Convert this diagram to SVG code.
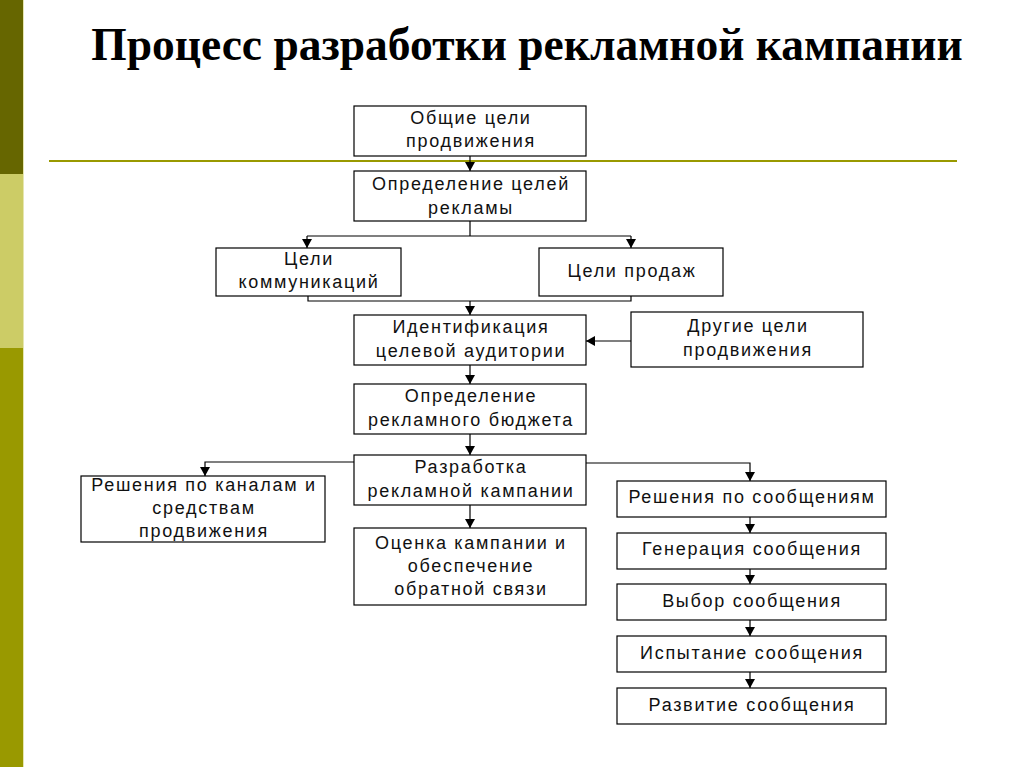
<svg xmlns="http://www.w3.org/2000/svg" width="1024" height="767" viewBox="0 0 1024 767">
<defs>
<marker id="arr" markerUnits="userSpaceOnUse" markerWidth="11" markerHeight="11" refX="9" refY="5.5" orient="auto">
<path d="M0,0.5 L9,5.5 L0,10.5 Z" fill="#000"/>
</marker>
<style>
.box{fill:#fff;stroke:#000;stroke-width:1.2}
.t{font-family:"Liberation Sans",Arial,sans-serif;font-size:18px;letter-spacing:1.7px;fill:#111;text-anchor:middle}
.c{fill:none;stroke:#000;stroke-width:1.2}
.a{marker-end:url(#arr)}
</style>
</defs>
<rect width="1024" height="767" fill="#fff"/>
<g id="sidebar">
<rect x="0" y="0" width="23" height="174" fill="#666600"/>
<rect x="0" y="174" width="23" height="174" fill="#cccc66"/>
<rect x="0" y="348" width="23" height="419" fill="#999900"/>
<rect x="23" y="0" width="1" height="767" fill="#e6e6b0"/>
</g>
<text id="title" x="527" y="60" font-family="'Liberation Serif','Times New Roman',serif" font-weight="bold" font-size="45.5" text-anchor="middle" fill="#000">Процесс разработки рекламной кампании</text>
<line x1="49" y1="161" x2="957" y2="161" stroke="#999900" stroke-width="2"/>
<g id="connectors">
<path class="c a" d="M470,156 V171"/>
<path class="c" d="M470,221 V236 M307,236 H631"/>
<path class="c a" d="M307,236 V248"/>
<path class="c a" d="M631,236 V248"/>
<path class="c" d="M308,296 V301 H631 V296"/>
<path class="c a" d="M470,301 V315"/>
<path class="c a" d="M631,341 H586"/>
<path class="c a" d="M470,365 V384"/>
<path class="c a" d="M470,434 V455"/>
<path class="c a" d="M354,462 H205 V476"/>
<path class="c a" d="M586,463 H750 V481"/>
<path class="c a" d="M470,505 V528"/>
<path class="c a" d="M750,517 V533"/>
<path class="c a" d="M750,569 V584"/>
<path class="c a" d="M750,620 V636"/>
<path class="c a" d="M750,672 V688"/>
</g>
<g id="n1"><rect class="box" x="354" y="106" width="232" height="50"/><text class="t" x="471" y="124">Общие цели</text><text class="t" x="471" y="147">продвижения</text></g>
<g id="n2"><rect class="box" x="354" y="171" width="232" height="50"/><text class="t" x="471" y="190">Определение целей</text><text class="t" x="471" y="214">рекламы</text></g>
<g id="n3"><rect class="box" x="216" y="248" width="185" height="48"/><text class="t" x="309" y="265">Цели</text><text class="t" x="309" y="288">коммуникаций</text></g>
<g id="n4"><rect class="box" x="539" y="248" width="184" height="48"/><text class="t" x="632" y="277">Цели продаж</text></g>
<g id="n5"><rect class="box" x="354" y="315" width="232" height="50"/><text class="t" x="471" y="333">Идентификация</text><text class="t" x="471" y="357">целевой аудитории</text></g>
<g id="n6"><rect class="box" x="631" y="312" width="232" height="55"/><text class="t" x="748" y="332">Другие цели</text><text class="t" x="748" y="356">продвижения</text></g>
<g id="n7"><rect class="box" x="354" y="384" width="232" height="50"/><text class="t" x="471" y="402">Определение</text><text class="t" x="471" y="426">рекламного бюджета</text></g>
<g id="n8"><rect class="box" x="354" y="455" width="232" height="50"/><text class="t" x="471" y="473">Разработка</text><text class="t" x="471" y="497">рекламной кампании</text></g>
<g id="n9"><rect class="box" x="81" y="476" width="244" height="66"/><text class="t" x="204" y="491">Решения по каналам и</text><text class="t" x="204" y="514">средствам</text><text class="t" x="204" y="537">продвижения</text></g>
<g id="n10"><rect class="box" x="354" y="528" width="232" height="77"/><text class="t" x="471" y="549">Оценка кампании и</text><text class="t" x="471" y="572">обеспечение</text><text class="t" x="471" y="595">обратной связи</text></g>
<g id="n11"><rect class="box" x="617" y="481" width="269" height="36"/><text class="t" x="752" y="503">Решения по сообщениям</text></g>
<g id="n12"><rect class="box" x="617" y="533" width="269" height="36"/><text class="t" x="752" y="555">Генерация сообщения</text></g>
<g id="n13"><rect class="box" x="617" y="584" width="269" height="36"/><text class="t" x="752" y="607">Выбор сообщения</text></g>
<g id="n14"><rect class="box" x="617" y="636" width="269" height="36"/><text class="t" x="752" y="659">Испытание сообщения</text></g>
<g id="n15"><rect class="box" x="617" y="688" width="269" height="36"/><text class="t" x="752" y="711">Развитие сообщения</text></g>
</svg>
